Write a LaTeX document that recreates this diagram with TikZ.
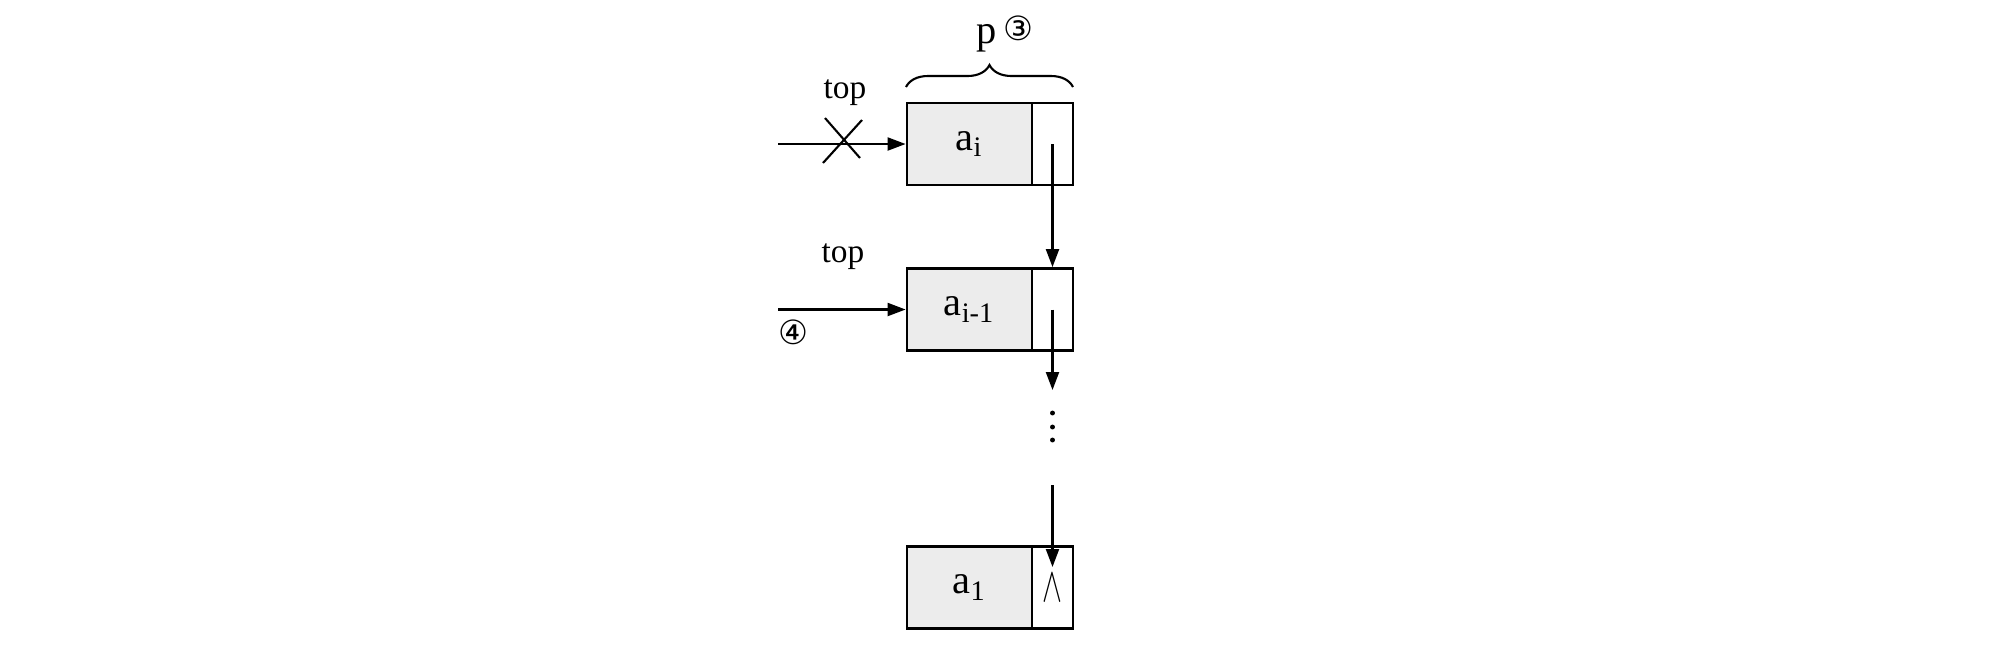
\documentclass[tikz,border=0pt]{standalone}
\usepackage{fontspec}
\setmainfont{Liberation Serif}
\newfontfamily\circfont{DejaVu Sans}
\usetikzlibrary{arrows.meta,positioning,decorations.pathreplacing}

\tikzset{
	datafield/.style={draw, line width=0.8pt, fill=gray!15, minimum width=1.25cm, minimum height=0.82cm, inner sep=0pt, font=\fontsize{11.5}{13}\selectfont},
	ptrfield/.style={draw, line width=0.8pt, minimum width=0.41cm, minimum height=0.82cm, inner sep=0pt},
	toplabel/.style={font=\fontsize{9.5}{11}\selectfont},
	circnum/.style={font=\circfont\fontsize{9.5}{11}\selectfont, inner sep=0pt},
	dot/.style={circle, fill, inner sep=0pt, minimum size=1.4pt}
}

\begin{document}
\begin{tikzpicture}[line width=0.6pt, >={Triangle[length=0.18cm,width=0.13cm]}]
	\useasboundingbox (0,0) rectangle (20.08,-6.66);

	\node[datafield] (D1) at (9.695,-1.44) {a\textsubscript{i}};
	\node[ptrfield, right=-0.8pt of D1] (P1) {};
	\node[datafield] (D2) at (9.695,-3.095) {a\textsubscript{i-1}};
	\node[ptrfield, right=-0.8pt of D2] (P2) {};
	\node[datafield] (D3) at (9.695,-5.875) {a\textsubscript{1}};
	\node[ptrfield, right=-0.8pt of D3] (P3) {};

	\coordinate (S1) at (7.78,-1.44);
	\coordinate (S2) at (7.78,-3.095);
	\coordinate (E2) at (10.5,-3.9);
	\coordinate (S3) at (10.5,-4.85);
	\coordinate (E3) at (10.5,-5.67);

	\draw[->] (S1) -- (D1.west);
	\draw[->] (S2) -- (D2.west);
	\draw[->] (P1.center) -- (P2.north);
	\draw[->] (P2.center) -- (P2.center |- E2);
	\draw[->] (P3.center |- S3) -- (P3.center |- E3);

	\node[dot] (dot1) at (P2.center |- 0,-4.13) {};
	\node[dot] (dot2) at (P2.center |- 0,-4.27) {};
	\node[dot] (dot3) at (P2.center |- 0,-4.40) {};
	\node[inner sep=0pt] (nul) at (P3.center |- 0,-5.88) {\scalebox{0.85}[1.4]{$\wedge$}};

	% the old top pointer is crossed out
	\draw (8.25,-1.18) -- (8.6,-1.58);
	\draw (8.62,-1.2) -- (8.23,-1.63);

	\node[toplabel] (top1) at (8.45,-0.93) {top};
	\node[toplabel] (top2) at (8.43,-2.57) {top};
	\node[circnum] (n4) at (7.93,-3.32) {④};

	\coordinate (BL) at (9.06,-0.87);
	\coordinate (BR) at (10.73,-0.87);
	\draw[decorate, decoration={brace, amplitude=0.22cm}] (BL) -- (BR);
	\node[anchor=base, font=\fontsize{11.5}{13}\selectfont] (p) at (9.87,-0.43) {p};
	\node[circnum] (n3) at (10.18,-0.28) {③};
\end{tikzpicture}
\end{document}
